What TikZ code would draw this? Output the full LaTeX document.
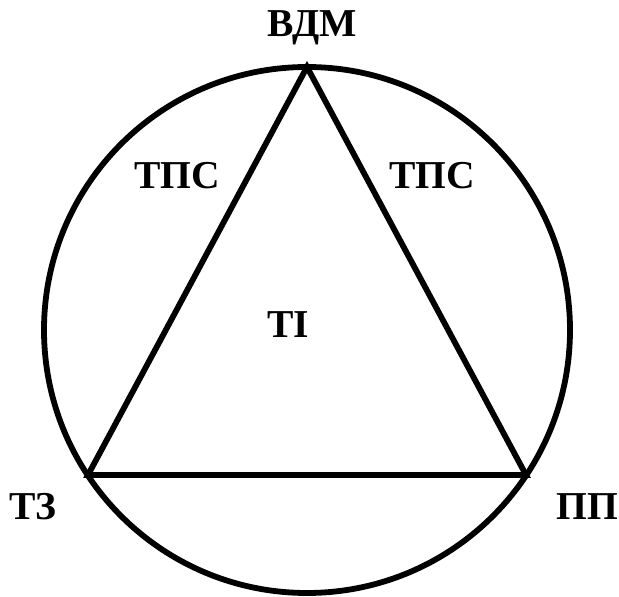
\documentclass[tikz,border=0pt]{standalone}
\usepackage{fontspec}
\setmainfont{Liberation Serif}
\begin{document}
\begin{tikzpicture}
[
x = 0.02cm, y = -0.02cm,
line width = 3.3pt,
lbl/.style = {anchor=base, inner sep=0pt, font=\fontsize{22.5}{26}\selectfont\bfseries}
]
\useasboundingbox (0,0) rectangle (619,597);
\coordinate (centre) at (307,330);
\coordinate (vdm) at (307,67);
\coordinate (tz) at (88,475);
\coordinate (pp) at (526,475);
\draw (centre) circle [radius=263*0.02cm];
\draw [line join=miter] (vdm) -- (tz) -- (pp) -- cycle;
\node [lbl] (vdmlabel) at (312,37) {ВДМ};
\node [lbl] (tpsleft) at (177,189) {ТПС};
\node [lbl] (tpsright) at (432,189) {ТПС};
\node [lbl] (ti) at (288,338) {ТІ};
\node [lbl] (tzlabel) at (33,520) {ТЗ};
\node [lbl] (pplabel) at (587,520) {ПП};
\end{tikzpicture}
\end{document}
